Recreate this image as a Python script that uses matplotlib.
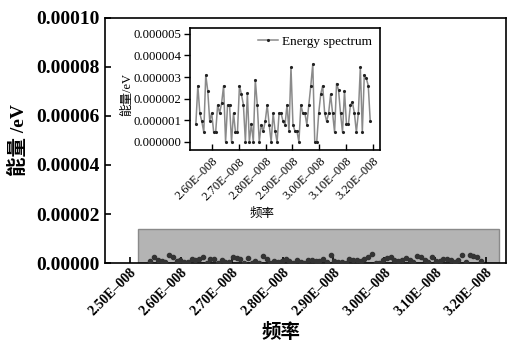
import numpy as np
import matplotlib
matplotlib.use('Agg')
import matplotlib.pyplot as plt
from matplotlib.patches import Rectangle
from matplotlib.ticker import FuncFormatter

plt.rcParams['font.family'] = ['Liberation Serif', 'Noto Sans CJK SC']
plt.rcParams['axes.unicode_minus'] = False

# energia (x1e-6 eV)
energia = [0.82, 2.6, 1.33, 0.95, 0.45, 3.1, 2.36, 0.97, 1.33, 0.45,
           0.45, 1.71, 1.33, 1.79, 2.6, 0.0, 1.71, 1.71, 0.0, 1.33,
           0.45, 0.45, 2.6, 2.2, 1.71, 0.0, 2.25, 0.0, 0.85, 0.0,
           2.87, 1.71, 0.0, 0.8, 0.5, 0.95, 1.71, 0.8, 0.0, 1.33,
           0.5, 0.0, 1.33, 1.33, 0.95, 0.8, 1.71, 0.5, 3.45, 0.8,
           0.5, 0.5, 0.0, 1.71, 1.33, 1.33, 0.8, 1.71, 2.6, 3.6,
           0.0, 0.0, 1.33, 2.2, 2.6, 1.33, 0.95, 1.33, 2.2, 1.33,
           0.45, 2.7, 2.4, 1.33, 0.45, 2.36, 0.82, 0.82, 1.71, 1.84,
           1.33, 0.45, 1.33, 3.45, 0.45, 3.1, 2.95, 2.6, 0.95]
energia = np.array(energia) * 1e-6
freq_inizio = 2.54e-8
freq_fine = 3.19e-8
frequenza = np.linspace(freq_inizio, freq_fine, len(energia))

# zona evidenziata (zoom)
zona_x = [2.516e-8, 3.225e-8]
zona_y = 1.39e-5

def fmt_freq(v, pos):
    return '%.2fE\u2013008' % (v * 1e8)

fig = plt.figure(figsize=(5.12, 3.43), dpi=100)

# grafico principale
ax = fig.add_axes([0.205, 0.233, 0.783, 0.715])
ax.add_patch(Rectangle((zona_x[0], 0), zona_x[1] - zona_x[0], zona_y,
                       facecolor='#b4b4b4', edgecolor='#8a8a8a', lw=1, zorder=1))
ax.scatter(frequenza, energia, s=9, color='#333333', zorder=3)
ax.set_xlim(2.451e-8, 3.239e-8)
ax.set_ylim(0, 0.0001)
ax.set_xticks(np.arange(2.5e-8, 3.21e-8, 0.1e-8))
ax.xaxis.set_major_formatter(FuncFormatter(fmt_freq))
ax.yaxis.set_major_formatter(FuncFormatter(lambda v, p: '%.5f' % v))
ax.set_yticks([0, 0.00002, 0.00004, 0.00006, 0.00008, 0.0001])
ax.tick_params(direction='in', length=4, width=1.2)
for lab in ax.get_yticklabels():
    lab.set_fontsize(14)
    lab.set_fontweight('bold')
for lab in ax.get_xticklabels():
    lab.set_fontsize(10)
    lab.set_fontweight('bold')
    lab.set_rotation(45)
    lab.set_ha('right')
    lab.set_rotation_mode('anchor')
ax.tick_params(axis='x', pad=2)
ax.set_xlabel('频率', fontsize=14, fontweight='bold')
ax.xaxis.set_label_coords(0.44, -0.282)
ax.xaxis.label.set_va('center')
ax.set_ylabel('能量 /eV', fontsize=14, fontweight='bold', labelpad=6)
for s in ax.spines.values():
    s.set_linewidth(1.2)

# riquadro interno
ins = fig.add_axes([0.371, 0.563, 0.371, 0.356])
ins.plot(frequenza, energia, '-', color='#8a8a8a', lw=1.1,
         marker='.', markersize=2.5, markerfacecolor='#222222',
         markeredgecolor='#222222', label='Energy spectrum')
ins.set_xlim(2.518e-8, 3.226e-8)
ins.set_ylim(-0.37e-6, 5.28e-6)
ins.set_xticks(np.arange(2.6e-8, 3.21e-8, 0.1e-8))
ins.set_yticks(np.arange(0, 5.1e-6, 1e-6))
ins.xaxis.set_major_formatter(FuncFormatter(fmt_freq))
ins.yaxis.set_major_formatter(FuncFormatter(lambda v, p: '%.6f' % v))
ins.tick_params(axis='x', direction='in', length=4, width=1, pad=4)
ins.tick_params(axis='y', direction='out', length=4, width=1, pad=2)
for lab in ins.get_yticklabels():
    lab.set_fontsize(9.2)
for lab in ins.get_xticklabels():
    lab.set_fontsize(9)
    lab.set_rotation(45)
    lab.set_ha('right')
    lab.set_rotation_mode('anchor')
ins.set_xlabel('频率', fontsize=9)
ins.xaxis.set_label_coords(0.379, -0.525)
ins.xaxis.label.set_va('center')
ins.set_ylabel('能量/eV', fontsize=9)
ins.yaxis.set_label_coords(-0.33, 0.45)
ins.yaxis.label.set_va('center')
ins.legend(loc='upper right', frameon=False, fontsize=9.5, handlelength=1.5,
           handletextpad=0.3, borderaxespad=0.2)
for s in ins.spines.values():
    s.set_linewidth(1.2)

plt.savefig('out.png', dpi=100)
